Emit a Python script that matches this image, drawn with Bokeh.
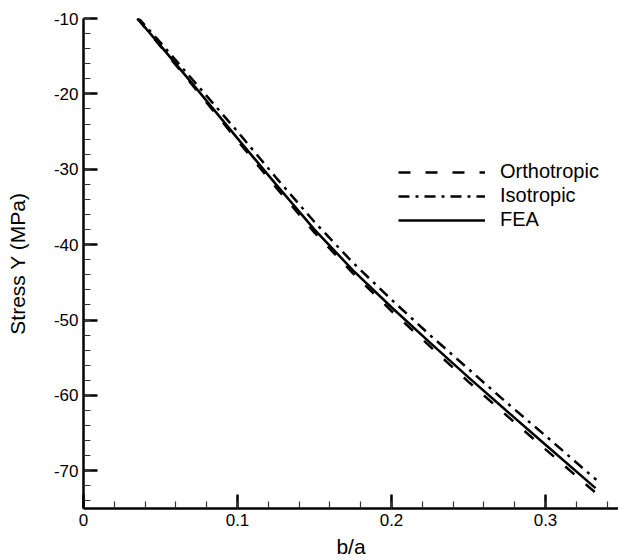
from bokeh.plotting import figure
from bokeh.models import (Range1d, SingleIntervalTicker, CustomJSTickFormatter,
                          Legend, LegendItem)
from bokeh.embed import file_html
from bokeh.resources import INLINE

# ---- data ----
fea_x = [0.035, 0.05, 0.075, 0.10, 0.125, 0.15, 0.175, 0.20, 0.225, 0.25, 0.275, 0.30, 0.3325]
fea_y = [-10.0, -13.6, -19.7, -25.9, -32.0, -38.0, -43.4, -48.3, -53.0, -57.6, -62.1, -66.55, -72.3]

ortho_x = [0.035, 0.05, 0.075, 0.10, 0.125, 0.15, 0.175, 0.20, 0.225, 0.25, 0.275, 0.30, 0.333]
ortho_y = [-10.0, -13.7, -19.9, -26.2, -32.4, -38.4, -43.8, -48.8, -53.5, -58.2, -62.7, -67.15, -73.0]

iso_x = [0.035, 0.05, 0.075, 0.10, 0.125, 0.15, 0.175, 0.20, 0.225, 0.25, 0.275, 0.30, 0.333]
iso_y = [-9.8, -13.2, -19.1, -25.0, -31.1, -37.0, -42.4, -47.3, -52.0, -56.5, -61.0, -65.35, -71.2]

series_names = ["Orthotropic", "Isotropic", "FEA"]
x_label = "b/a"
y_label = "Stress Y (MPa)"

FONT = "Liberation Sans"

p = figure(width=618, height=560, output_backend="svg", toolbar_location=None,
           x_range=Range1d(0, 0.3474), y_range=Range1d(-75, -10),
           min_border_left=83, min_border_right=0, min_border_top=18,
           min_border_bottom=52)
p.outline_line_color = None
p.xgrid.visible = False
p.ygrid.visible = False
p.background_fill_color = "white"
p.border_fill_color = "white"

r_o = p.line(ortho_x, ortho_y, line_color="black", line_width=2.5, line_dash="12 15")
r_i = p.line(iso_x, iso_y, line_color="black", line_width=2.5, line_dash="11 6 3 6")
r_f = p.line(fea_x, fea_y, line_color="black", line_width=2.5)

for ax in (p.xaxis[0], p.yaxis[0]):
    ax.axis_line_width = 2.5
    ax.axis_line_color = "black"
    ax.major_tick_in = 14
    ax.major_tick_out = 0
    ax.minor_tick_in = 7
    ax.minor_tick_out = 0
    ax.major_tick_line_width = 2.5
    ax.minor_tick_line_width = 1.2
    ax.major_tick_line_color = "black"
    ax.minor_tick_line_color = "#333333"
    ax.major_label_text_font = FONT
    ax.major_label_text_font_size = "17px"
    ax.major_label_text_color = "black"
    ax.axis_label_text_font = FONT
    ax.axis_label_text_font_size = "21px"
    ax.axis_label_text_font_style = "normal"
    ax.axis_label_text_color = "black"
    ax.major_label_standoff = 5

p.xaxis.ticker = SingleIntervalTicker(interval=0.1, num_minor_ticks=5)
p.yaxis.ticker = SingleIntervalTicker(interval=10, num_minor_ticks=5)
p.xaxis.formatter = CustomJSTickFormatter(
    code="return Math.abs(tick) < 1e-9 ? '0' : (Math.round(tick*10)/10).toString();")
p.yaxis.formatter = CustomJSTickFormatter(code="return Math.round(tick).toString();")
p.xaxis.axis_label = x_label
p.yaxis.axis_label = y_label
p.xaxis.axis_label_standoff = 6
p.yaxis.axis_label_standoff = 22

legend = Legend(items=[LegendItem(label=series_names[0], renderers=[r_o]),
                       LegendItem(label=series_names[1], renderers=[r_i]),
                       LegendItem(label=series_names[2], renderers=[r_f])],
                location=(315, 277))
legend.border_line_color = None
legend.background_fill_alpha = 0
legend.padding = 0
legend.margin = 0
legend.spacing = 1
legend.glyph_width = 87
legend.glyph_height = 20
legend.label_height = 20
legend.label_standoff = 15
legend.label_text_font = FONT
legend.label_text_font_size = "20px"
legend.label_text_color = "black"
p.add_layout(legend, "center")

open("out.html", "w").write(file_html(p, INLINE))
